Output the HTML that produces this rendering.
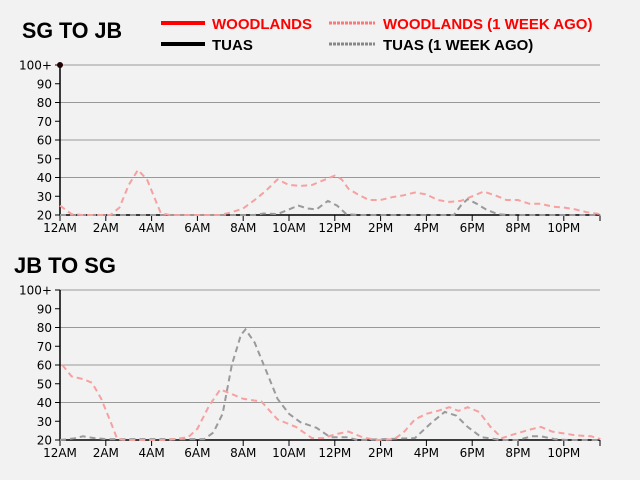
<!DOCTYPE html>
<html><head><style>
html,body{margin:0;padding:0;background:#f2f2f2;}
svg{display:block;font-family:"DejaVu Sans","Liberation Sans",sans-serif;}
.t{font-family:"Liberation Sans",sans-serif;font-weight:bold;}
.tk{font-size:12px;fill:#000;}
.g{stroke:#999;stroke-width:1;}
.wa{fill:none;stroke:#f7a0a0;stroke-width:2;stroke-dasharray:6,4;}
.ta{fill:none;stroke:#9a9a9a;stroke-width:2;stroke-dasharray:6,4;}
</style></head><body>
<svg id="s" width="640" height="480" xmlns="http://www.w3.org/2000/svg">
<text class="t" x="22" y="38" font-size="22" textLength="100" lengthAdjust="spacingAndGlyphs">SG TO JB</text>
<text class="t" x="14" y="273" font-size="22" textLength="102" lengthAdjust="spacingAndGlyphs">JB TO SG</text>
<line x1="161" y1="23" x2="205" y2="23" stroke="#f00" stroke-width="4"/>
<text x="212" y="29" font-size="15" fill="#f00" class="t">WOODLANDS</text>
<line x1="329" y1="23" x2="375" y2="23" stroke="#f77" stroke-width="3" stroke-dasharray="3,1"/>
<text x="383" y="29" font-size="15" fill="#f00" class="t">WOODLANDS (1 WEEK AGO)</text>
<line x1="161" y1="44" x2="205" y2="44" stroke="#000" stroke-width="4"/>
<text x="212" y="50" font-size="15" fill="#000" class="t">TUAS</text>
<line x1="329" y1="44" x2="375" y2="44" stroke="#888" stroke-width="3" stroke-dasharray="3,1"/>
<text x="383" y="50" font-size="15" fill="#000" class="t">TUAS (1 WEEK AGO)</text>
<g id="c"></g>
</svg>
<script>
var NS="http://www.w3.org/2000/svg",c=document.getElementById("c");
function el(n,a,t){var e=document.createElementNS(NS,n);for(var k in a)e.setAttribute(k,a[k]);if(t)e.textContent=t;c.appendChild(e);return e;}
var X=function(h){return 60+22.9*h;};
function chart(y0,wa,ta,dot){
 var Y=function(v){return y0-1.875*(v-20);};
 [100,80,60,40].forEach(function(v){el("line",{x1:60,x2:600,y1:Y(v),y2:Y(v),"class":"g"});});
 el("line",{x1:60,x2:60,y1:Y(100),y2:y0,stroke:"#000","stroke-width":1.5});
 el("line",{x1:60,x2:600,y1:y0,y2:y0,stroke:"#000","stroke-width":1.5});
 for(var v=20;v<=100;v+=10){el("line",{x1:55,x2:60,y1:Y(v),y2:Y(v),stroke:"#000"});
  el("text",{x:52,y:Y(v)+4.5,"text-anchor":"end","class":"tk"},v==100?"100+":""+v);}
 var L=["12AM","2AM","4AM","6AM","8AM","10AM","12PM","2PM","4PM","6PM","8PM","10PM"];
 for(var i=0;i<12;i++){var x=X(i*2);el("line",{x1:x,x2:x,y1:y0,y2:y0+6,stroke:"#000"});
  el("text",{x:x,y:y0+17,"text-anchor":"middle","class":"tk"},L[i]);}
 el("line",{x1:600,x2:600,y1:y0,y2:y0+6,stroke:"#000"});
 function pl(d,cl){var p=[];for(var i=0;i<d.length;i+=2)p.push(X(d[i]).toFixed(1)+","+Y(d[i+1]).toFixed(1));el("polyline",{points:p.join(" "),"class":cl});}
 pl(ta,"ta");pl(wa,"wa");
 if(dot)el("circle",{cx:60,cy:Y(100),r:3,fill:"#200"});
}
chart(215,
[0,25,0.5,20.5,1,20,2.2,20,2.6,24,3,36,3.4,44,3.8,39,4.1,30,4.4,21,4.8,20,7,20,7.5,21.5,8,23.5,8.5,28,9,33,9.5,39,10,36,10.5,35.5,11,36,11.5,38.5,12,41,12.3,39,12.6,34,13,31,13.5,28,14,28,14.5,29.5,15,30.5,15.5,32,16,31,16.5,28,17,27,17.5,27.5,18,30,18.5,32.5,19,30.5,19.5,28,20,28,20.5,26,21,26,21.5,24.5,22,24,22.5,23,23,21.5,23.6,20.5],
[0,20,8.5,20,8.9,20.8,9.5,20.5,10,23,10.4,25,10.8,23.5,11.2,23,11.7,27.5,12.1,25,12.5,20.5,13,20,17.2,20,17.5,25,17.8,28.5,18.2,26,18.6,23,19.1,20.5,19.6,20,23.6,20],true);
chart(440,
[0.1,60,0.5,54,1,52.5,1.4,50.5,1.8,42,2.2,30,2.5,20.5,3,20,4.5,20,5,20.5,5.6,21.5,6,26,6.5,38,7,47,7.4,45,8,42,8.8,40.5,9.5,31,10.3,27,11,21,11.5,21,12,23,12.6,24.5,13.2,21.5,13.8,20,14.6,20.5,15,24,15.5,31,16,34,16.5,35.5,17,37.5,17.4,35.5,17.8,37.5,18.3,35,18.8,27,19.3,21,19.8,23,20.5,25.5,21,27,21.5,24.5,22.5,22.5,23.2,22,23.6,20.5],
[0,20,0.6,20.8,1,22,1.5,21,2,20.5,6.3,20.5,6.7,24,7.1,34,7.5,60,7.9,76,8.1,79,8.5,72,8.9,60,9.5,42,10,34,10.5,29.5,11.2,26.5,11.8,21.5,12.5,21.5,13,20,15.5,21,16.2,29,16.8,35,17.3,33,17.8,27,18.4,21.5,19.3,20,20,20,20.6,22,21,22,21.6,20.5,22.2,20,23.6,20],false);
</script>
</body></html>
